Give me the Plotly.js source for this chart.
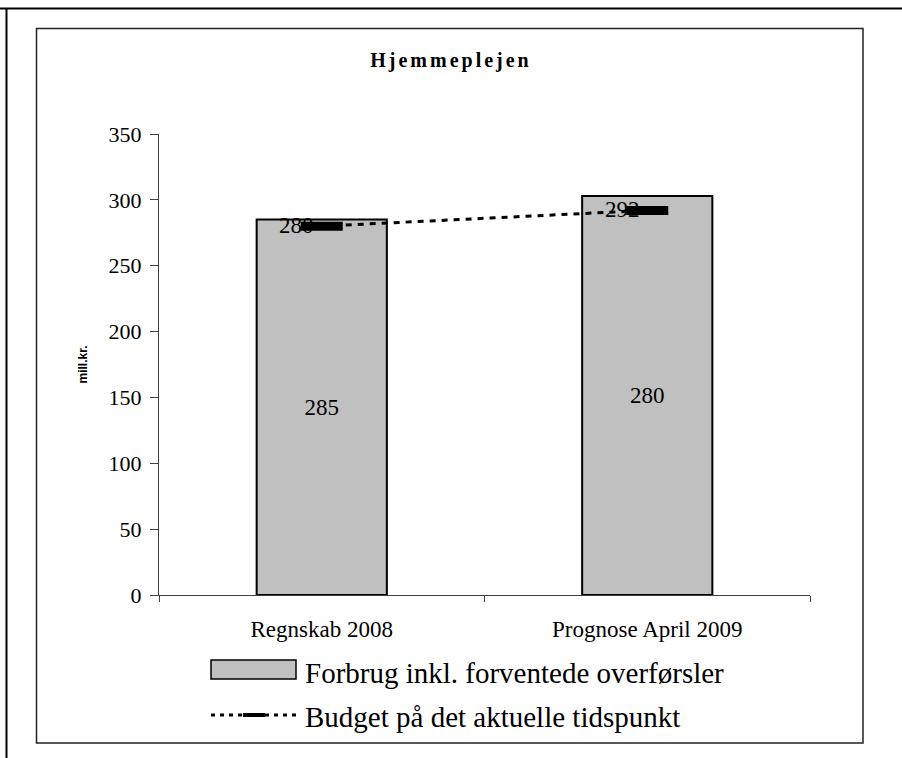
<!DOCTYPE html>
<html>
<head>
<meta charset="utf-8">
<script src="https://cdn.plot.ly/plotly-3.0.1.min.js"></script>
<style>
  html, body { margin: 0; padding: 0; background: #fff; }
  #chart { width: 902px; height: 758px; }
  .gtitle { letter-spacing: 3px; }
</style>
</head>
<body>
<div id="chart"></div>
<script>
// ---- data ----
var categories = ["Regnskab 2008", "Prognose April 2009"];
var forbrugValues = [285, 303];
var forbrugLabels = ["285", "280"];
var budgetValues = [280, 292];
var budgetLabels = ["280", "292"];
var yTickValues = [0, 50, 100, 150, 200, 250, 300, 350];

var seriesNames = ["Forbrug inkl. forventede overførsler", "Budget på det aktuelle tidspunkt"];

// ---- layout geometry (pixels) ----
var W = 902, H = 758;
var L = 159, R = 810, T = 134, B = 595;
function px(x) { return (x - L) / (R - L); }
function py(y) { return (B - y) / (B - T); }

var serif = "Liberation Serif, Times New Roman, serif";

var bars = {
  type: "bar",
  x: categories,
  y: forbrugValues,
  name: seriesNames[0],
  width: 0.4,
  marker: { color: "#c0c0c0", line: { color: "#000", width: 2 } },
  text: forbrugLabels,
  textposition: "inside",
  insidetextanchor: "middle",
  textangle: 0,
  insidetextfont: { family: serif, size: 23, color: "#000" },
  hoverinfo: "skip",
  showlegend: false
};

var budget = {
  type: "scatter",
  mode: "lines+markers",
  x: categories,
  y: budgetValues,
  name: seriesNames[1],
  line: { color: "#000", width: 3, dash: "6px,6px" },
  marker: { symbol: "line-ew-open", size: 30, line: { color: "#000", width: 9 } },
  hoverinfo: "skip",
  showlegend: false
};

var annotations = [];
for (var i = 0; i < categories.length; i++) {
  annotations.push({
    x: categories[i], y: budgetValues[i], xref: "x", yref: "y",
    text: budgetLabels[i], showarrow: false, xshift: -25, yshift: 1,
    font: { family: serif, size: 23, color: "#000" }
  });
}
// legend texts
annotations.push({
  xref: "paper", yref: "paper", x: px(303), y: py(672.5), xanchor: "left", yanchor: "middle",
  text: seriesNames[0], showarrow: false, font: { family: serif, size: 29, color: "#000" }
});
annotations.push({
  xref: "paper", yref: "paper", x: px(303), y: py(717), xanchor: "left", yanchor: "middle",
  text: seriesNames[1], showarrow: false, font: { family: serif, size: 29, color: "#000" }
});

var shapes = [
  // outer page border (top, left)
  { type: "line", xref: "paper", yref: "paper", x0: px(0), x1: px(W), y0: py(8.5), y1: py(8.5), line: { color: "#000", width: 2 } },
  { type: "line", xref: "paper", yref: "paper", x0: px(6.5), x1: px(6.5), y0: py(8.5), y1: py(H), line: { color: "#000", width: 2 } },
  // inner chart border
  { type: "rect", xref: "paper", yref: "paper", x0: px(36.5), x1: px(863), y0: py(28.5), y1: py(743), line: { color: "#222", width: 1.5 } },
  // legend swatch (bar)
  { type: "rect", xref: "paper", yref: "paper", x0: px(211), x1: px(296), y0: py(660), y1: py(679), fillcolor: "#c0c0c0", line: { color: "#000", width: 1.5 } },
  // legend line (budget)
  { type: "line", xref: "paper", yref: "paper", x0: px(211), x1: px(296), y0: py(715), y1: py(715), line: { color: "#000", width: 3, dash: "4px,5px" } },
  { type: "line", xref: "paper", yref: "paper", x0: px(243), x1: px(265), y0: py(715), y1: py(715), line: { color: "#000", width: 4 } }
];

var layout = {
  width: W, height: H,
  margin: { l: L, r: W - R, t: T, b: H - B, pad: 0 },
  paper_bgcolor: "#fff", plot_bgcolor: "#fff",
  showlegend: false,
  title: {
    text: "<b>Hjemmeplejen</b>",
    font: { family: serif, size: 20, color: "#000" },
    x: 0.5, xref: "container", xanchor: "center",
    y: 1 - 60 / H, yref: "container", yanchor: "middle"
  },
  xaxis: {
    type: "category",
    range: [-0.5, 1.5],
    showline: true, linecolor: "#404040", linewidth: 1,
    ticks: "outside", tickson: "boundaries", ticklen: 6, tickcolor: "#404040",
    showgrid: false, zeroline: false,
    tickfont: { family: serif, size: 23, color: "#000" },
    ticklabelstandoff: 13,
    fixedrange: true
  },
  yaxis: {
    range: [0, 350],
    tickvals: yTickValues,
    showline: true, linecolor: "#404040", linewidth: 1,
    ticks: "outside", ticklen: 8, tickcolor: "#404040",
    showgrid: false, zeroline: false,
    tickfont: { family: serif, size: 22, color: "#000" },
    ticklabelstandoff: 4,
    title: { text: "<b>mill.kr.</b>", font: { family: "Liberation Sans, Arial, sans-serif", size: 12, color: "#000" }, standoff: 18 },
    fixedrange: true
  },
  bargap: 0.6,
  shapes: shapes,
  annotations: annotations
};

Plotly.newPlot("chart", [bars, budget], layout, { displayModeBar: false, staticPlot: true });
</script>
</body>
</html>
